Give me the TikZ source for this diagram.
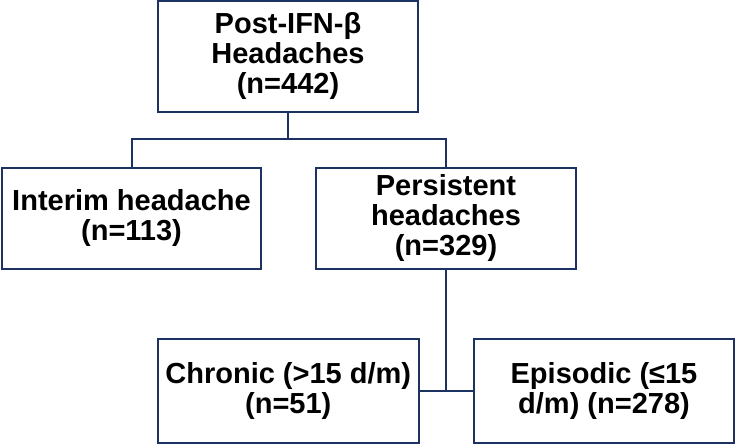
\documentclass[tikz,border=0pt]{standalone}
\usepackage{fontspec}
\setmainfont{Liberation Sans}
\definecolor{navy}{RGB}{28,50,96}
\begin{document}
\begin{tikzpicture}[x=1pt,y=-1pt,
  box/.style={draw=navy,line width=2pt,rectangle,inner sep=0pt,align=center,
    font=\fontsize{29}{30}\selectfont\bfseries},
  link/.style={draw=navy,line width=2pt}]
\useasboundingbox (0,0) rectangle (737,444);
\node[box,minimum width=260pt,minimum height=111pt] (top) at (288,56.5) {Post-IFN-β\\Headaches\\(n=442)};
\node[box,minimum width=259pt,minimum height=101pt] (interim) at (131.5,218.5) {Interim headache\\(n=113)};
\node[box,minimum width=260pt,minimum height=101pt] (pers) at (446,218.5) {Persistent\\headaches\\(n=329)};
\node[box,minimum width=261.5pt,minimum height=104pt] (chronic) at (288.25,391) {Chronic (>15 d/m)\\(n=51)};
\node[box,minimum width=260pt,minimum height=104pt] (episodic) at (604,391) {Episodic (≤15\\d/m) (n=278)};
\coordinate (bar) at (288,139);
\draw[link] (top.south) -- (bar);
\draw[link] (interim.north) |- (bar) -| (pers.north);
\draw[link] (pers.south) -- (pers.south |- chronic.east);
\draw[link] (chronic.east) -- (episodic.west);
\end{tikzpicture}
\end{document}
